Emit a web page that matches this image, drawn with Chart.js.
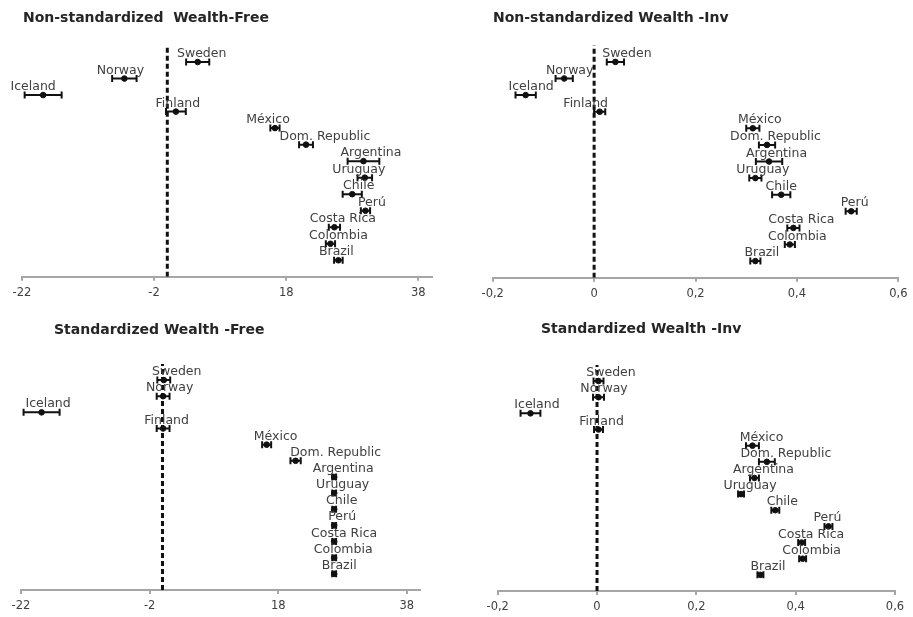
<!DOCTYPE html>
<html>
<head>
<meta charset="utf-8">
<title>Wealth estimates by country</title>
<script src="https://cdn.jsdelivr.net/npm/chart.js@4.4.1/dist/chart.umd.min.js"></script>
<style>
  html, body { margin: 0; padding: 0; background: #ffffff; }
  #wrap { position: relative; width: 913px; height: 617px; overflow: hidden; }
  .panel { position: absolute; }
</style>
</head>
<body>
<div id="wrap">
  <div class="panel" style="left:0;top:0;"><canvas id="c1" width="456" height="308"></canvas></div>
  <div class="panel" style="left:456px;top:0;"><canvas id="c2" width="457" height="308"></canvas></div>
  <div class="panel" style="left:0;top:308px;"><canvas id="c3" width="456" height="309"></canvas></div>
  <div class="panel" style="left:456px;top:308px;"><canvas id="c4" width="457" height="309"></canvas></div>
</div>
<script>
// Countries, listed top to bottom
const countries = ['Sweden', 'Norway', 'Iceland', 'Finland', 'México', 'Dom. Republic',
  'Argentina', 'Uruguay', 'Chile', 'Perú', 'Costa Rica', 'Colombia', 'Brazil'];

// Non-standardized, wealth-free: estimate and half-width of the interval
const nsFree    = [4.6, -6.5, -18.8, 1.3, 16.3, 21.0, 29.7, 29.9, 28.0, 30.0, 25.3, 24.7, 25.9];
const nsFreeErr = [1.75, 1.85, 2.8, 1.5, 0.7, 1.05, 2.4, 1.1, 1.45, 0.7, 0.85, 0.7, 0.65];

// Non-standardized, wealth-inv
const nsInv    = [0.042, -0.059, -0.135, 0.011, 0.313, 0.341, 0.345, 0.318, 0.369, 0.507, 0.393, 0.386, 0.318];
const nsInvErr = [0.017, 0.017, 0.020, 0.011, 0.013, 0.016, 0.026, 0.012, 0.018, 0.011, 0.012, 0.010, 0.010];

// Standardized, wealth-free
const sFree    = [0.2, 0.1, -18.8, 0.1, 16.2, 20.7, 26.7, 26.7, 26.7, 26.7, 26.7, 26.7, 26.7];
const sFreeErr = [1.0, 1.0, 2.8, 1.0, 0.7, 0.8, 0.3, 0.3, 0.3, 0.3, 0.3, 0.3, 0.3];

// Standardized, wealth-inv
const sInv    = [0.003, 0.003, -0.134, 0.003, 0.313, 0.342, 0.317, 0.290, 0.359, 0.466, 0.412, 0.414, 0.329];
const sInvErr = [0.010, 0.011, 0.020, 0.009, 0.013, 0.016, 0.009, 0.006, 0.008, 0.008, 0.007, 0.007, 0.006];

// Axis ticks
const freeTicks = [-22, -2, 18, 38];
const freeTickLabels = ['-22', '-2', '18', '38'];
const invTicks = [-0.2, 0, 0.2, 0.4, 0.6];
const invTickLabels = ['-0,2', '0', '0,2', '0,4', '0,6'];

// ---- styling ----
const INK = '#111111';
const AXIS_GREY = '#a6a6a6';
const LABEL_GREY = '#404040';
const FONT = '"DejaVu Sans", Verdana, sans-serif';

// horizontal nudges (px) of the country names, per panel
const nudge1 = [4, -4, -10, 2, -7, 19, 7.5, -6, 6.5, 6.5, 8.5, 8, -2];
const nudge2 = [11.5, 5.5, 5.5, -14, 7, 8.5, 7.5, 7.5, 0, 3.5, 8, 7.5, 6.5];
const nudge3 = [13, 6.5, 6.5, 3.5, 9, 40, 9, 8.5, 7.5, 8, 10, 9, 5];
const nudge4 = [12.5, 5.5, 6.5, 3, 9, 19, 9, 9, 7, -1, 9.5, 9, 7.5];

// Horizontal error bars with end caps
const errorBars = {
  id: 'errorBars',
  afterDatasetsDraw(chart, args, opts) {
    const { ctx, scales: { x, y } } = chart;
    const pts = chart.data.datasets[0].data;
    ctx.save();
    ctx.strokeStyle = INK;
    ctx.lineWidth = 2;
    pts.forEach((p, i) => {
      const e = opts.errors[i];
      const x0 = x.getPixelForValue(p.x - e);
      const x1 = x.getPixelForValue(p.x + e);
      const py = y.getPixelForValue(p.y);
      ctx.beginPath();
      ctx.moveTo(x0, py); ctx.lineTo(x1, py);
      ctx.moveTo(x0, py - 3.5); ctx.lineTo(x0, py + 3.5);
      ctx.moveTo(x1, py - 3.5); ctx.lineTo(x1, py + 3.5);
      ctx.stroke();
    });
    ctx.restore();
  }
};

// Country names written above their markers
const pointNames = {
  id: 'pointNames',
  afterDatasetsDraw(chart, args, opts) {
    const { ctx, scales: { x, y } } = chart;
    const pts = chart.data.datasets[0].data;
    ctx.save();
    ctx.fillStyle = LABEL_GREY;
    ctx.font = '12.5px ' + FONT;
    ctx.textAlign = 'center';
    ctx.textBaseline = 'alphabetic';
    pts.forEach((p, i) => {
      const px = x.getPixelForValue(p.x) + opts.nudge[i];
      const py = y.getPixelForValue(p.y) - 5;
      ctx.fillText(opts.names[i], px, py);
    });
    ctx.restore();
  }
};

// Panel heading
const panelTitle = {
  id: 'panelTitle',
  afterDraw(chart, args, opts) {
    const ctx = chart.ctx;
    ctx.save();
    ctx.fillStyle = '#262626';
    ctx.font = 'bold 14px ' + FONT;
    ctx.textAlign = 'left';
    ctx.textBaseline = 'alphabetic';
    ctx.fillText(opts.text, opts.left, opts.baseline);
    ctx.restore();
  }
};

function makePanel(id, cfg) {
  const rows = cfg.values.length;
  const points = cfg.values.map((v, i) => ({ x: v, y: rows - i }));
  return new Chart(document.getElementById(id), {
    type: 'scatter',
    data: {
      datasets: [
        {
          data: points,
          pointRadius: 2.8,
          pointHoverRadius: 2.8,
          pointBackgroundColor: INK,
          pointBorderColor: INK,
          pointBorderWidth: 1
        },
        {
          type: 'line',
          data: [{ x: 0, y: 0 }, { x: 0, y: rows + 1 }],
          borderColor: INK,
          borderWidth: 3,
          borderDash: [5, 3],
          pointRadius: 0,
          fill: false
        }
      ]
    },
    options: {
      responsive: false,
      animation: false,
      devicePixelRatio: 1,
      layout: { padding: cfg.padding },
      plugins: {
        legend: { display: false },
        tooltip: { enabled: false },
        title: { display: false },
        errorBars: { errors: cfg.errors },
        pointNames: { names: countries, nudge: cfg.nudge },
        panelTitle: cfg.title
      },
      scales: {
        x: {
          type: 'linear',
          min: cfg.min,
          max: cfg.max,
          afterBuildTicks: (s) => { s.ticks = cfg.ticks.map(v => ({ value: v })); },
          afterFit: (s) => { s.height = 24; },
          ticks: {
            autoSkip: false,
            maxRotation: 0,
            padding: 5.5,
            color: LABEL_GREY,
            font: { family: FONT, size: 11.5 },
            callback: (v, i) => cfg.tickLabels[i]
          },
          grid: {
            display: true,
            drawOnChartArea: false,
            drawTicks: true,
            tickLength: 4,
            color: AXIS_GREY,
            lineWidth: 2
          },
          border: { display: true, color: AXIS_GREY, width: 2 }
        },
        y: { type: 'linear', min: 0, max: rows + 1, display: false }
      }
    },
    plugins: [errorBars, pointNames, panelTitle]
  });
}

makePanel('c1', {
  values: nsFree, errors: nsFreeErr, nudge: nudge1,
  min: -22, max: 40, ticks: freeTicks, tickLabels: freeTickLabels,
  padding: { left: 22, right: 24.5, top: 45.5, bottom: 7.2 },
  title: { text: 'Non-standardized  Wealth-Free', left: 23, baseline: 22 }
});

makePanel('c2', {
  values: nsInv, errors: nsInvErr, nudge: nudge2,
  min: -0.2, max: 0.6, ticks: invTicks, tickLabels: invTickLabels,
  padding: { left: 36.7, right: 10.3, top: 45.3, bottom: 6.3 },
  title: { text: 'Non-standardized Wealth -Inv', left: 37, baseline: 22 }
});

makePanel('c3', {
  values: sFree, errors: sFreeErr, nudge: nudge3,
  min: -22, max: 40, ticks: freeTicks, tickLabels: freeTickLabels,
  padding: { left: 21, right: 36.3, top: 55.9, bottom: 3 },
  title: { text: 'Standardized Wealth -Free', left: 54, baseline: 26 }
});

makePanel('c4', {
  values: sInv, errors: sInvErr, nudge: nudge4,
  min: -0.2, max: 0.6, ticks: invTicks, tickLabels: invTickLabels,
  padding: { left: 41.7, right: 18, top: 56.9, bottom: 2 },
  title: { text: 'Standardized Wealth -Inv', left: 85, baseline: 25.3 }
});
</script>
</body>
</html>
